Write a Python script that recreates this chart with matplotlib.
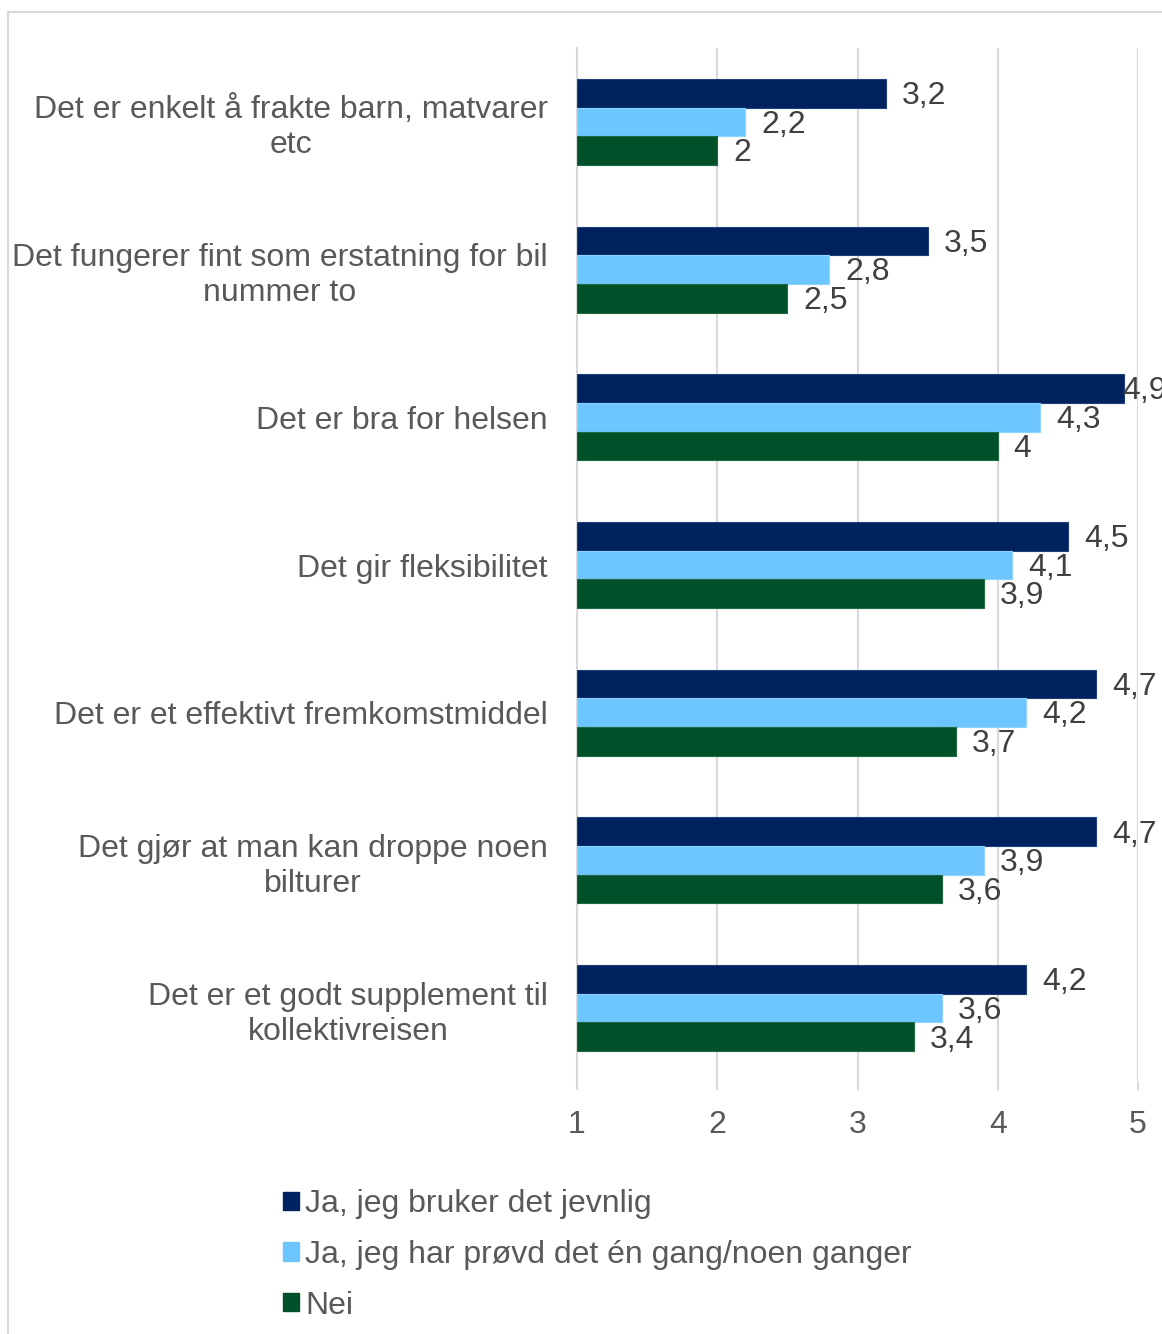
import matplotlib
matplotlib.use("Agg")
import matplotlib.pyplot as plt
from matplotlib.patches import Patch, Rectangle
import numpy as np

plt.rcParams['font.family'] = ['Liberation Sans', 'DejaVu Sans']

categories = [
    "Det er enkelt å frakte barn, matvarer\netc",
    "Det fungerer fint som erstatning for bil\nnummer to",
    "Det er bra for helsen",
    "Det gir fleksibilitet",
    "Det er et effektivt fremkomstmiddel",
    "Det gjør at man kan droppe noen\nbilturer",
    "Det er et godt supplement til\nkollektivreisen",
]
series_names = [
    "Ja, jeg bruker det jevnlig",
    "Ja, jeg har prøvd det én gang/noen ganger",
    "Nei",
]
jevnlig = [3.2, 3.5, 4.9, 4.5, 4.7, 4.7, 4.2]
provd = [2.2, 2.8, 4.3, 4.1, 4.2, 3.9, 3.6]
nei = [2.0, 2.5, 4.0, 3.9, 3.7, 3.6, 3.4]
xticks = [1, 2, 3, 4, 5]

colors = ["#002360", "#6DC6FF", "#00502A"]
edgecols = ["#1F3F7A", "#8FD3FF", "#1E6A40"]

W, H = 1162, 1334
FS = 23
fig = plt.figure(figsize=(W / 100, H / 100), dpi=100)
fig.patch.set_facecolor("white")

# outer frame
fig.patches.append(Rectangle((8 / W, -0.1), 1.2, 1 - 12 / H + 0.1, transform=fig.transFigure,
                             fill=False, edgecolor="#D9D9D9", linewidth=1.5, zorder=0))

ax = fig.add_axes([577 / W, 1 - 1082 / H, (1138 - 577) / W, (1082 - 48) / H])
ax.set_xlim(1, 5)
ax.set_ylim(len(categories) - 0.5, -0.5)

bh = 0.194
y = np.arange(len(categories))
series = [jevnlig, provd, nei]
fig.canvas.draw()
max_px = 1122  # labels are kept inside the chart area like the source chart does
for k, vals in enumerate(series):
    yy = y + (k - 1) * bh
    widths = [v - 1 for v in vals]
    ax.barh(yy, widths, left=1, height=bh, color=colors[k], edgecolor=edgecols[k],
            linewidth=0.8, label=series_names[k], zorder=3)
    for yi, v in zip(yy, vals):
        bar_end_px = ax.transData.transform((v, yi))[0]
        off_px = min(16, max_px - bar_end_px)
        ax.annotate(f"{v:g}".replace(".", ","), xy=(v, yi), xytext=(off_px * 0.72, -2),
                    textcoords="offset points", va="center", ha="left",
                    fontsize=FS, color="#404040", annotation_clip=False, zorder=4)

ax.set_yticks(y)
ax.set_yticklabels(categories, fontsize=FS, color="#595959", multialignment="center",
                   linespacing=1.22)
ax.tick_params(axis="y", length=0, pad=21)
ax.set_xticks(xticks)
ax.set_xticklabels([str(t) for t in xticks], fontsize=FS, color="#595959")
ax.tick_params(axis="x", length=6, color="#D9D9D9", width=1.5, pad=14)
ax.grid(axis="x", color="#D9D9D9", linewidth=1.5, zorder=0)
ax.set_axisbelow(True)
for s in ["top", "right", "bottom"]:
    ax.spines[s].set_visible(False)
ax.spines["left"].set_color("#D9D9D9")
ax.spines["left"].set_linewidth(1.5)

handles = [Patch(facecolor=c, edgecolor=c) for c in colors]
fig.legend(handles, series_names, loc="upper left", bbox_to_anchor=(283 / W, 1 - 1189 / H),
           frameon=False, fontsize=FS, labelcolor="#595959", handlelength=0.5,
           handleheight=0.5, handletextpad=0.2, labelspacing=0.65, borderaxespad=0,
           borderpad=0)

fig.savefig("out.png", dpi=100)
